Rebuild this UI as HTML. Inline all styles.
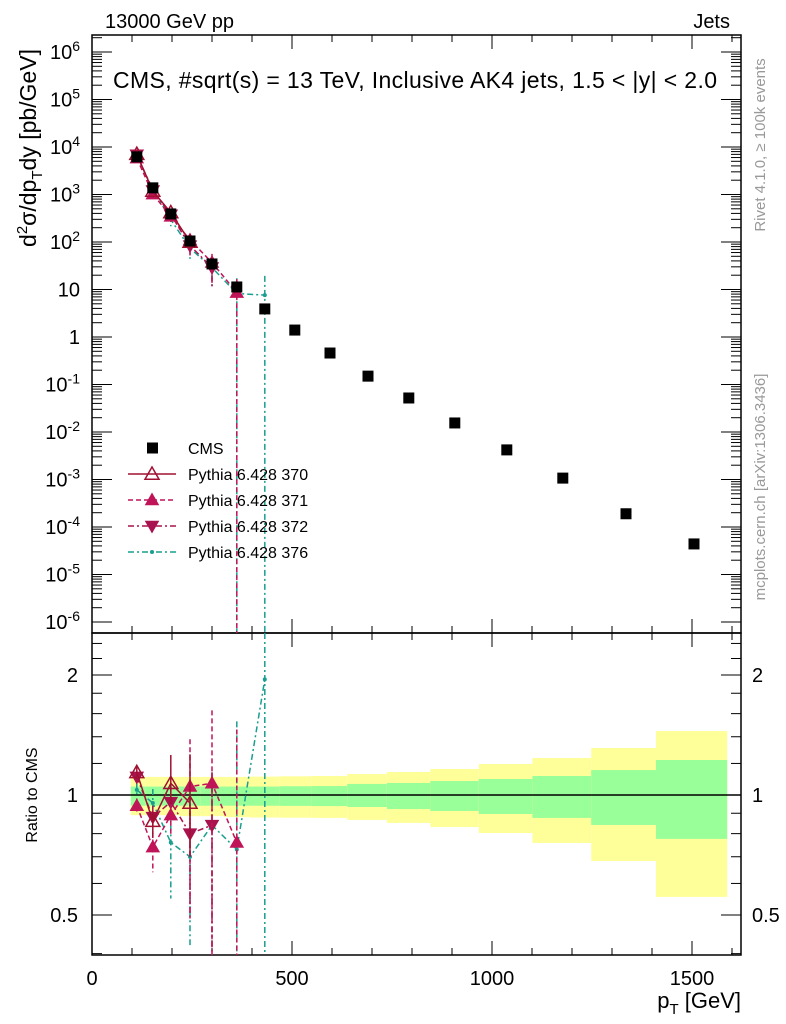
<!DOCTYPE html>
<html><head><meta charset="utf-8"><style>
html,body{margin:0;padding:0;background:#fff;}
svg{display:block;font-family:"Liberation Sans",sans-serif;}
</style></head><body>
<svg id="c" width="786" height="1024" viewBox="0 0 786 1024"></svg>
<script>
const cmsPt=[112,152,197,245,300,362,432,507,595,690,792,907,1037,1177,1335,1505];
const cmsVal=[6200,1380,390,105,34.5,11.3,3.9,1.4,0.46,0.15,0.052,0.0155,0.0042,0.00107,0.00019,0.000044];
const binEdges=[97,133,174,220,272,330,395,468,548,638,737,846,967,1101,1248,1410,1588];
const statUp=[1.05,1.05,1.05,1.05,1.05,1.05,1.05,1.052,1.053,1.066,1.072,1.084,1.097,1.116,1.155,1.224];
const statDn=[0.94,0.94,0.94,0.94,0.94,0.94,0.94,0.939,0.938,0.933,0.922,0.912,0.896,0.876,0.841,0.776];
const totUp=[1.11,1.11,1.11,1.11,1.11,1.11,1.112,1.114,1.116,1.129,1.142,1.162,1.196,1.238,1.312,1.447];
const totDn=[0.89,0.89,0.89,0.885,0.885,0.88,0.878,0.877,0.876,0.866,0.851,0.831,0.803,0.758,0.683,0.555];
const pt370=[112,152,197,245];
const r370=[1.14,0.86,1.07,0.955];
const e370Up=[0.04,0.05,0.19,0.31];
const e370Dn=[0.04,0.08,0.12,0.25];
const pt371=[112,152,197,245,300,362];
const r371=[0.94,0.74,0.89,1.05,1.07,0.76];
const e371Up=[0.04,0.07,0.1,0.33,0.56,0.7];
const e371Dn=[0.04,0.1,0.1,0.56,0.7,0.9];
const pt372=[112,152,197,245,300];
const r372=[1.11,0.88,0.96,0.8,0.84];
const e372Up=[0.04,0.06,0.1,0.2,0.3];
const e372Dn=[0.04,0.06,0.1,0.3,0.5];
const pt376=[112,152,197,245,300,362,432];
const r376=[1.03,0.955,0.76,0.7,0.84,0.73,1.95];
const e376Up=[0.04,0.08,0.15,0.2,0.3,0.8,3];
const e376Dn=[0.04,0.08,0.21,0.28,0.5,0.73,1.95];
const xTicks=[0,500,1000,1500];
const yExp=[-6,-5,-4,-3,-2,-1,0,1,2,3,4,5,6];
const rTicks=[0.5,1,2];

const NS="http://www.w3.org/2000/svg";
const svg=document.getElementById('c');
const L=92,R=741,T1=35,B1=633,T2=633,B2=955;
const X=v=>L+v*0.4;
const Y1=v=>337-47.5*Math.log10(v);
const Y2=v=>Math.min(Math.max(795-120*Math.log2(v),T2),B2);
function el(tag,a,parent){const e=document.createElementNS(NS,tag);for(const k in a)e.setAttribute(k,a[k]);(parent||svg).appendChild(e);return e;}
function txt(s,x,y,a){const t=el('text',Object.assign({x:x,y:y,'font-size':20,fill:'#000'},a||{}));t.innerHTML=s;return t;}
function cmsAt(p){let best=0;cmsPt.forEach((c,i)=>{if(Math.abs(c-p)<Math.abs(cmsPt[best]-p))best=i;});return cmsVal[best];}
const bands=el('g',{});


for(let i=0;i<cmsPt.length;i++){
  const x0=X(binEdges[i]),x1=X(binEdges[i+1]);
  const y=el('rect',{x:x0,y:Y2(totUp[i]),width:x1-x0,height:Y2(totDn[i])-Y2(totUp[i]),fill:'#ffff99'},bands);
  
  
  const g=el('rect',{x:x0,y:Y2(statUp[i]),width:x1-x0,height:Y2(statDn[i])-Y2(statUp[i]),fill:'#99ff99'},bands);
  
  
}
el('line',{x1:L,x2:R,y1:Y2(1),y2:Y2(1),stroke:'#000','stroke-width':1.5});
el('rect',{x:L,y:T1,width:R-L,height:B1-T1,fill:'none',stroke:'#000','stroke-width':1.5});
el('rect',{x:L,y:T2,width:R-L,height:B2-T2,fill:'none',stroke:'#000','stroke-width':1.5});
for(let v=0;v<=1600;v+=100){const big=v%500==0;const h=big?14:7;
 [[T1,1],[B1,-1],[T2,1],[B2,-1]].forEach(([y,d])=>el('line',{x1:X(v),x2:X(v),y1:y,y2:y+d*h,stroke:'#000'}));}
xTicks.forEach(v=>{const t=txt(v,X(v),985,{'text-anchor':'middle'});});
yExp.forEach(e=>{const y=Y1(Math.pow(10,e));
 [[L,1],[R,-1]].forEach(([x,d])=>{el('line',{x1:x,x2:x+d*20,y1:y,y2:y,stroke:'#000'});
  for(let k=2;k<10;k++){const yy=Y1(k*Math.pow(10,e));if(yy>T1&&yy<B1)el('line',{x1:x,x2:x+d*10,y1:yy,y2:yy,stroke:'#000'});}});
 let lab;
 if(e==0)lab='1';else if(e==1)lab='10';else lab='10<tspan dy="-8" font-size="14">'+e+'</tspan>';
 const t=txt(lab,80,y+7,{'text-anchor':'end'});
 
});
[0.4,0.5,0.6,0.7,0.8,0.9,1,1.2,1.4,1.6,1.8,2,2.2,2.4].forEach(v=>{const y=Y2(v);const big=rTicks.includes(v);
 el('line',{x1:L,x2:L+(big?20:10),y1:y,y2:y,stroke:'#000'});el('line',{x1:R,x2:R-(big?20:10),y1:y,y2:y,stroke:'#000'});});
rTicks.forEach(v=>{const y=Y2(v)+7;
 let t=txt(v,78,y,{'text-anchor':'end'});
 t=txt(v,752,y,{});});
function tri(g,x,y,up,fill,col,s){const d=up?`M${x} ${y-s}L${x+s} ${y+s*0.75}L${x-s} ${y+s*0.75}Z`:`M${x} ${y+s}L${x+s} ${y-s*0.75}L${x-s} ${y-s*0.75}Z`;el('path',{d:d,fill:fill,stroke:col,'stroke-width':1.5},g);}
function series(name,pts,rat,eu,ed,col,dash,marker){
 const g=el('g',{});
 
 
 [[Y1,true],[Y2,false]].forEach(([Yf,up])=>{
  const scale=(i)=>up?cmsAt(pts[i]):1;
  const vals=pts.map((p,i)=>scale(i)*rat[i]);
  el('polyline',{points:pts.map((p,i)=>X(p)+','+Yf(vals[i])).join(' '),fill:'none',stroke:col,'stroke-width':1.5,'stroke-dasharray':dash},g);
  pts.forEach((p,i)=>{const x=X(p);const yt=Yf(scale(i)*(rat[i]+eu[i]));const lo=rat[i]-ed[i];const yb=lo<=0.001?(up?B1:B2):Yf(scale(i)*lo);
   el('line',{x1:x,x2:x,y1:Math.max(yt,up?T1:T2),y2:Math.min(yb,up?B1:B2),stroke:col,'stroke-width':1.5,'stroke-dasharray':dash},g);
   const y=Yf(vals[i]);
   if(marker=='open')tri(g,x,y,true,'none',col,7);else if(marker=='up')tri(g,x,y,true,col,col,6);else if(marker=='down')tri(g,x,y,false,col,col,6);else el('circle',{cx:x,cy:y,r:2,fill:col},g);});
 });
}
series('series-pythia-376',pt376,r376,e376Up,e376Dn,'#1a9e8f','6,3,2,3','dot');
series('series-pythia-372',pt372,r372,e372Up,e372Dn,'#a8124e','6,3,2,3','down');
series('series-pythia-371',pt371,r371,e371Up,e371Dn,'#c01458','5,3','up');
series('series-pythia-370',pt370,r370,e370Up,e370Dn,'#a01030','','open');
const cg=el('g',{});


cmsPt.forEach((p,i)=>{el('rect',{x:X(p)-5.5,y:Y1(cmsVal[i])-5.5,width:11,height:11,fill:'#000'},cg);});
const lg=el('g',{});


const leg=[['CMS','sq'],['Pythia 6.428 370','open','#a01030',''],['Pythia 6.428 371','up','#c01458','5,3'],['Pythia 6.428 372','down','#a8124e','6,3,2,3'],['Pythia 6.428 376','dot','#1a9e8f','6,3,2,3']];
leg.forEach((l,i)=>{const y=448+i*26;
 if(l[1]=='sq')el('rect',{x:147,y:y-5.5,width:11,height:11,fill:'#000'},lg);
 else{el('line',{x1:128,x2:176,y1:y,y2:y,stroke:l[2],'stroke-width':1.5,'stroke-dasharray':l[3]},lg);
  if(l[1]=='open')tri(lg,152,y,true,'none',l[2],7);else if(l[1]=='up')tri(lg,152,y,true,l[2],l[2],6);else if(l[1]=='down')tri(lg,152,y,false,l[2],l[2],6);else el('circle',{cx:152,cy:y,r:2,fill:l[2]},lg);}
 const t=txt(l[0],188,y+6,{'font-size':16});});
let t=txt('13000 GeV pp',105,28);
t=txt('Jets',730,28,{'text-anchor':'end'});
t=txt('CMS, #sqrt(s) = 13 TeV, Inclusive AK4 jets, 1.5 &lt; |y| &lt; 2.0',415,88,{'text-anchor':'middle','font-size':23,textLength:604});
t=txt('d<tspan dy="-9" font-size="15">2</tspan><tspan dy="9">σ/dp</tspan><tspan dy="6" font-size="15">T</tspan><tspan dy="-6">dy [pb/GeV]</tspan>',0,0,{transform:'translate(36,148) rotate(-90)','text-anchor':'middle','font-size':23});
t=txt('Ratio to CMS',0,0,{transform:'translate(37,795) rotate(-90)','text-anchor':'middle','font-size':16});
t=txt('p<tspan dy="6" font-size="15">T</tspan><tspan dy="-6"> [GeV]</tspan>',741,1008,{'text-anchor':'end','font-size':22});
t=txt('Rivet 4.1.0, ≥ 100k events',0,0,{transform:'translate(765,145) rotate(-90)','text-anchor':'middle','font-size':15,fill:'#999'});
t=txt('mcplots.cern.ch [arXiv:1306.3436]',0,0,{transform:'translate(765,487) rotate(-90)','text-anchor':'middle','font-size':15,fill:'#999'});
</script>
</body></html>
